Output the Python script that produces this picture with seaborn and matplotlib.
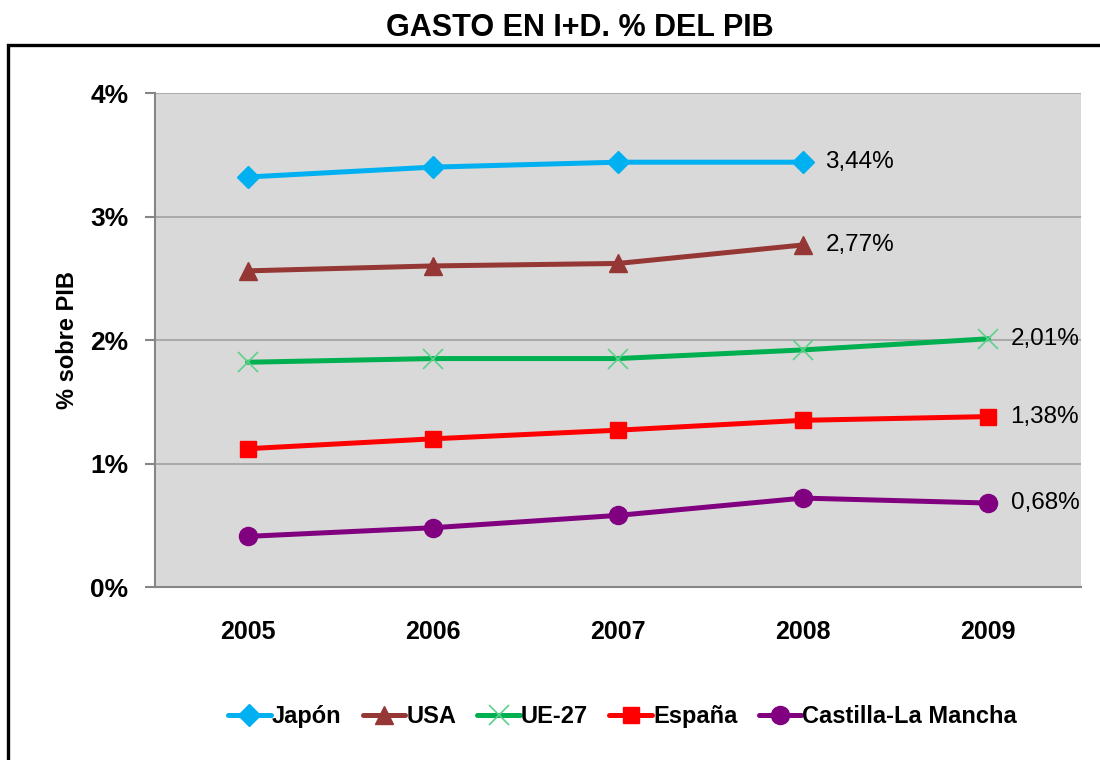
import numpy as np
import pandas as pd
import matplotlib
matplotlib.use('Agg')
import matplotlib.pyplot as plt
import seaborn as sns
from matplotlib.patches import Rectangle

years = [2005, 2006, 2007, 2008, 2009]
japon = [3.32, 3.40, 3.44, 3.44, np.nan]
usa = [2.56, 2.60, 2.62, 2.77, np.nan]
ue27 = [1.82, 1.85, 1.85, 1.92, 2.01]
espana = [1.12, 1.20, 1.27, 1.35, 1.38]
clm = [0.41, 0.48, 0.58, 0.72, 0.68]
series_names = ['Japón', 'USA', 'UE-27', 'España', 'Castilla-La Mancha']
end_labels = ['3,44%', '2,77%', '2,01%', '1,38%', '0,68%']
y_ticks = [0, 1, 2, 3, 4]

styles = {
    'Japón': dict(color='#00B0F0', marker='D', markersize=11, mec='#00B0F0', mew=1),
    'USA': dict(color='#953735', marker='^', markersize=13, mec='#953735', mew=1),
    'UE-27': dict(color='#00B050', marker='x', markersize=15, mec='#5DD08A', mew=1.2),
    'España': dict(color='#FF0000', marker='s', markersize=12, mec='#FF0000', mew=1),
    'Castilla-La Mancha': dict(color='#800080', marker='o', markersize=13, mec='#800080', mew=1),
}

sns.set_style('white')
regular = ['Liberation Sans', 'DejaVu Sans']
plt.rcParams['font.family'] = regular
plt.rcParams['text.color'] = 'black'
plt.rcParams['xtick.color'] = 'black'
plt.rcParams['ytick.color'] = 'black'
plt.rcParams['axes.labelcolor'] = 'black'

fig = plt.figure(figsize=(11, 7.6), dpi=100)
ax = fig.add_axes([0.1409, 0.2276, 0.8418, 0.65])
ax.set_facecolor('#D9D9D9')

values = [japon, usa, ue27, espana, clm]
for name, vals, lab in zip(series_names, values, end_labels):
    df = pd.DataFrame({'year': years, 'val': vals}).dropna()
    st = styles[name]
    sns.lineplot(data=df, x='year', y='val', ax=ax, color=st['color'], linewidth=3.6,
                 marker=st['marker'], markersize=st['markersize'],
                 markeredgecolor=st['mec'], markeredgewidth=st['mew'],
                 label=name, sort=False, zorder=3)
    last = df.iloc[-1]
    ax.annotate(lab, (last['year'], last['val']), xytext=(16, 0), textcoords='offset points',
                va='center', ha='left', fontsize=17.5, color='black', zorder=4)

ax.set_xlim(2004.5, 2009.5)
ax.set_ylim(0, 4)
ax.set_yticks(y_ticks)
ax.set_yticklabels([f'{v}%' for v in y_ticks])
ax.set_xticks(years)
ax.set_xticklabels([str(y) for y in years])
ax.set_xticks([y - 0.5 for y in years] + [years[-1] + 0.5], minor=True)
ax.tick_params(axis='x', which='major', length=0, pad=24)
ax.tick_params(axis='x', which='minor', length=8, width=1.5, color='#868686', direction='out')
ax.tick_params(axis='y', length=7, width=1.5, color='#868686', direction='out', left=True, pad=12)
for t in ax.get_xticklabels():
    t.set_fontweight('bold')
    t.set_fontsize(18)
for t in ax.get_yticklabels():
    t.set_fontweight('bold')
    t.set_fontsize(19)

ax.grid(axis='y', color='#A6A6A6', linewidth=1.3)
ax.grid(axis='x', visible=False)
ax.spines['right'].set_visible(False)
ax.spines['top'].set_visible(False)
ax.spines['left'].set_color('#868686')
ax.spines['left'].set_linewidth(1.5)
ax.spines['bottom'].set_color('#868686')
ax.spines['bottom'].set_linewidth(1.5)
ax.set_axisbelow(True)

ax.set_xlabel('')
ax.set_ylabel('% sobre PIB', fontsize=17, fontweight='bold', labelpad=8)

handles, labels = ax.get_legend_handles_labels()
ax.get_legend().remove()
leg = fig.legend(handles, labels, loc='center', bbox_to_anchor=(0.566, 0.057), ncol=5,
                 frameon=False, handlelength=1.8, columnspacing=0.9, handletextpad=0.05,
                 prop={'weight': 'bold', 'size': 17})

fig.text(0.527, 0.963, 'GASTO EN I+D. % DEL PIB', ha='center', va='center',
         fontsize=22, fontweight='bold')

fig.patches.append(Rectangle((0.0075, -0.1), 1.2, 1.0408, transform=fig.transFigure,
                             fill=False, edgecolor='black', linewidth=2.4, zorder=10))

fig.savefig('out.png', dpi=100)
